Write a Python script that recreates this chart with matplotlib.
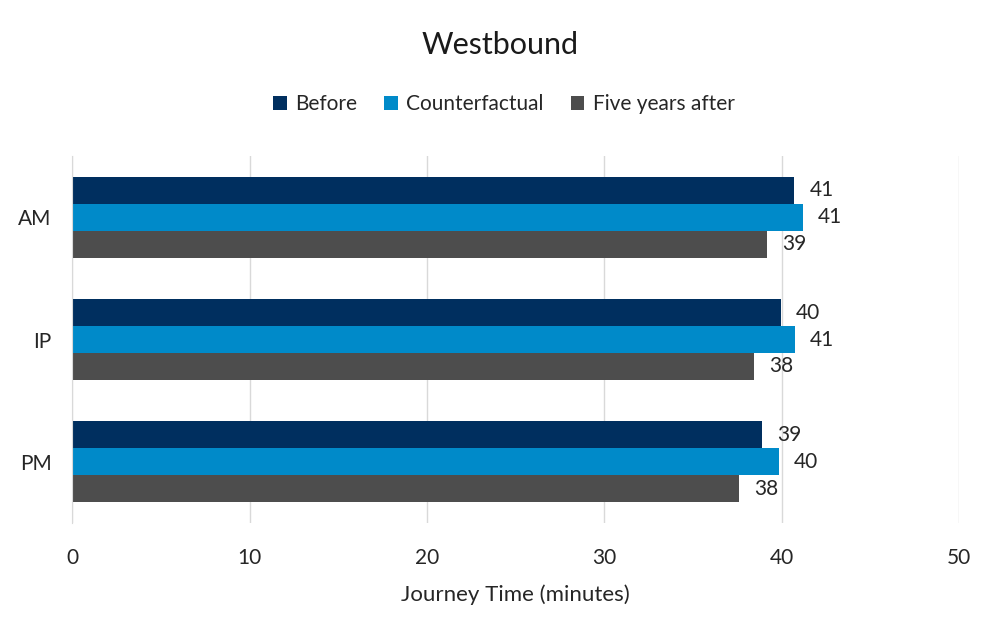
import matplotlib
matplotlib.use("Agg")
import matplotlib.pyplot as plt
import numpy as np

plt.rcParams['font.family'] = ['Lato', 'DejaVu Sans']

# journey times (minutes)
periods = ["AM", "IP", "PM"]
before = [40.7, 39.95, 38.9]
counterfactual = [41.2, 40.75, 39.85]
five_years = [39.15, 38.45, 37.6]

series_names = ["Before", "Counterfactual", "Five years after"]
colours = ["#002F5F", "#008AC9", "#4D4D4D"]

fig = plt.figure(figsize=(10, 6.4), dpi=100)
ax = fig.add_axes([0.0723, 0.183, 0.8867, 0.573])

y = np.arange(len(periods))
h = 0.22
handles = []
for i, (vals, name, col) in enumerate(zip([before, counterfactual, five_years], series_names, colours)):
    pos = y + (i - 1) * h
    bars = ax.barh(pos, vals, height=h, color=col, label=name, zorder=3)
    handles.append(bars)
    for b, v in zip(bars, vals):
        ax.annotate("%d" % round(v), (v, b.get_y() + b.get_height() / 2),
                    xytext=(11, 0), textcoords="offset points",
                    va="center", ha="left", fontsize=15, color="#262626")

ax.set_xlim(0, 50)
ax.set_ylim(len(periods) - 0.5, -0.5)
ax.set_yticks(y)
ax.set_yticklabels(periods)
ax.set_xticks(range(0, 51, 10))
ax.tick_params(length=0, labelsize=15, labelcolor="#262626")
ax.tick_params(axis="x", pad=18)
ax.tick_params(axis="y", pad=15)
ax.grid(axis="x", color="#D9D9D9", linewidth=1, zorder=0)
for s in ["top", "right", "bottom"]:
    ax.spines[s].set_visible(False)
ax.spines["left"].set_color("#D9D9D9")
ax.spines["left"].set_zorder(4)

ax.set_xlabel("Journey Time (minutes)", fontsize=16, color="#262626", labelpad=12)

fig.text(0.5, 0.93, "Westbound", ha="center", va="center", fontsize=22, color="#1a1a1a")
fig.legend(handles=handles, loc="center", bbox_to_anchor=(0.504, 0.837), ncol=3,
           frameon=False, fontsize=15, handlelength=0.65, handleheight=0.65,
           handletextpad=0.4, columnspacing=1.3, labelcolor="#262626")

fig.savefig("out.png", dpi=100)
